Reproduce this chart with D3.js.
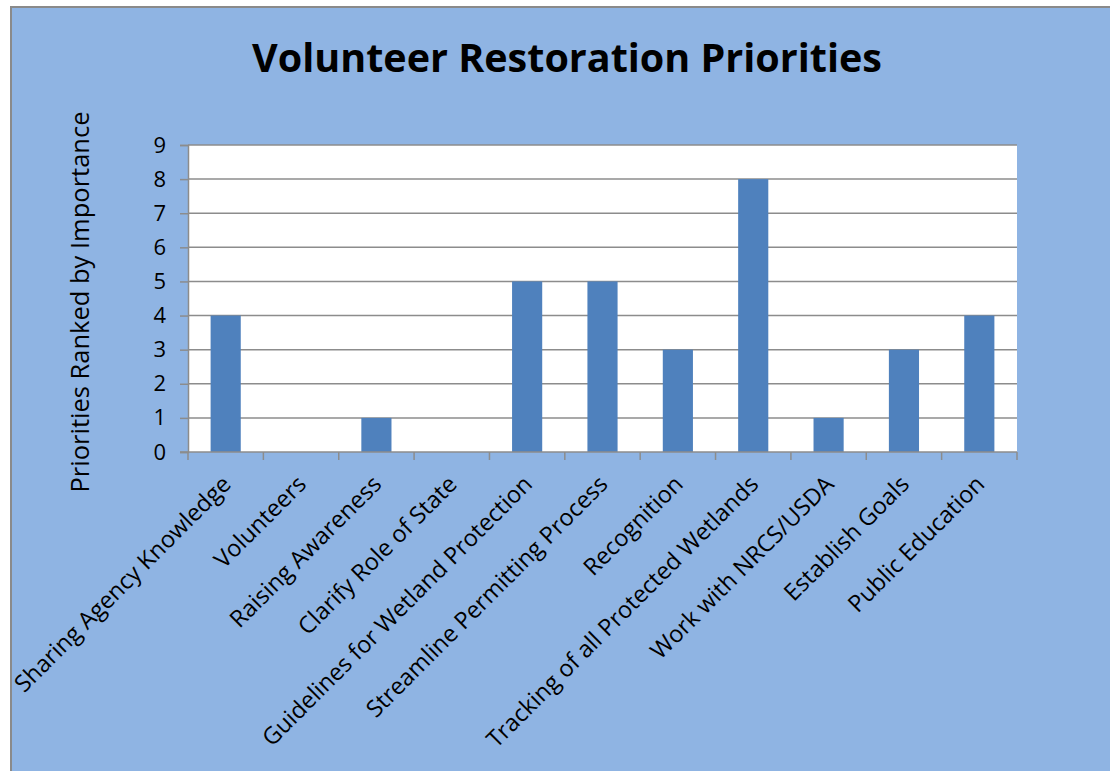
<!DOCTYPE html>
<html>
<head>
<meta charset="utf-8">
<script src="https://cdn.jsdelivr.net/npm/d3@7"></script>
<style>
  html, body { margin: 0; padding: 0; background: #fff; overflow: hidden; }
  svg { display: block; }
  text { font-family: "Open Sans", Lato, sans-serif; fill: #000; }
</style>
</head>
<body>
<div id="chart"></div>
<script>
// Volunteer Restoration Priorities - Excel style column chart

const categories = [
  "Sharing Agency Knowledge", "Volunteers", "Raising Awareness",
  "Clarify Role of State", "Guidelines for Wetland Protection",
  "Streamline Permitting Process", "Recognition",
  "Tracking of all Protected Wetlands", "Work with NRCS/USDA",
  "Establish Goals", "Public Education"
];
const values = [4, 0, 1, 0, 5, 5, 3, 8, 1, 3, 4];
const yTicks = [0, 1, 2, 3, 4, 5, 6, 7, 8, 9];

const title = "Volunteer Restoration Priorities";
const yTitle = "Priorities Ranked by Importance";

// 1) Dimensions
const width = 1110, height = 771;
const plot = { left: 188, top: 145, right: 1017, bottom: 452 };
const font = "\"Open Sans\", Lato, sans-serif";

const svg = d3.select("#chart").append("svg")
  .attr("width", width)
  .attr("height", height);

// chart area background (cropped on the right / bottom, border only shows top + left)
svg.append("rect")
  .attr("x", 11).attr("y", 7)
  .attr("width", width + 20).attr("height", height + 20)
  .attr("fill", "#8fb4e3")
  .attr("stroke", "#8a8a8a")
  .attr("stroke-width", 2);

// plot area
svg.append("rect")
  .attr("x", plot.left).attr("y", plot.top)
  .attr("width", plot.right - plot.left)
  .attr("height", plot.bottom - plot.top)
  .attr("fill", "#fff");

// 2) Scales
const x = d3.scaleBand()
  .domain(categories)
  .range([plot.left, plot.right])
  .paddingInner(0.6)
  .paddingOuter(0.3);
const step = x.step();

const y = d3.scaleLinear()
  .domain([0, 9])
  .range([plot.bottom, plot.top]);

// 3) Gridlines
svg.append("g")
  .selectAll("line")
  .data(yTicks.filter(d => d > 0))
  .enter().append("line")
    .attr("x1", plot.left).attr("x2", plot.right)
    .attr("y1", d => y(d)).attr("y2", d => y(d))
    .attr("stroke", "#8c8c8c")
    .attr("stroke-width", 1.5);

// 4) Bars
svg.append("g")
  .selectAll("rect")
  .data(values.map((v, i) => ({ cat: categories[i], v })))
  .enter().append("rect")
    .attr("x", d => x(d.cat))
    .attr("y", d => y(d.v))
    .attr("width", x.bandwidth())
    .attr("height", d => y(0) - y(d.v))
    .attr("fill", "#4f81bd");

// 5) Y axis
const yAxis = svg.append("g")
  .attr("transform", `translate(${plot.left},0)`)
  .call(d3.axisLeft(y).tickValues(yTicks).tickSize(8).tickPadding(14));
yAxis.select(".domain").attr("stroke", "#8c8c8c").attr("stroke-width", 1.5);
yAxis.selectAll(".tick line").attr("stroke", "#8c8c8c").attr("stroke-width", 1.5);
yAxis.selectAll(".tick text")
  .attr("font-size", 22)
  .attr("font-family", font)
  .attr("fill", "#000");

// 6) X axis line + ticks at category boundaries
const xg = svg.append("g");
xg.append("line")
  .attr("x1", plot.left - 8).attr("x2", plot.right)
  .attr("y1", plot.bottom).attr("y2", plot.bottom)
  .attr("stroke", "#8c8c8c").attr("stroke-width", 1.5);
xg.selectAll("line.xt")
  .data(d3.range(categories.length + 1))
  .enter().append("line")
    .attr("class", "xt")
    .attr("x1", i => plot.left + i * step)
    .attr("x2", i => plot.left + i * step)
    .attr("y1", plot.bottom).attr("y2", plot.bottom + 8)
    .attr("stroke", "#8c8c8c").attr("stroke-width", 1.5);

// category labels rotated -45
xg.selectAll("text.cat")
  .data(categories)
  .enter().append("text")
    .attr("class", "cat")
    .attr("transform", d => `translate(${x(d) + x.bandwidth() / 2 - 5},${plot.bottom + 22}) rotate(-45)`)
    .attr("text-anchor", "end")
    .attr("dy", "0.7em")
    .attr("font-size", 23.5)
    .text(d => d);

// 7) Titles
svg.append("text")
  .attr("x", 567).attr("y", 72)
  .attr("text-anchor", "middle")
  .attr("font-size", 39.5)
  .attr("font-weight", "bold")
  .text(title);

svg.append("text")
  .attr("transform", `translate(89,302) rotate(-90)`)
  .attr("text-anchor", "middle")
  .attr("font-size", 25.5)
  .text(yTitle);
</script>
</body>
</html>
